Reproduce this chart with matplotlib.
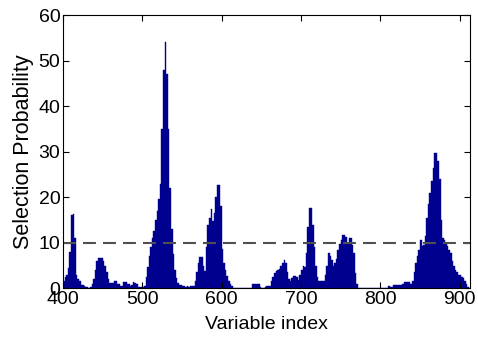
import numpy as np
import matplotlib
matplotlib.use("Agg")
import matplotlib.pyplot as plt

# selection probability, one value per pair of variables
var_index = np.arange(401, 913, 2)
sel_prob = [
    1.5, 2.5, 3, 4.5, 8, 16, 16.3, 11, 3, 2,            # 401-419
    1.5, 0.8, 0.8, 0.6, 0.3, 0.3, 0.1, 0.3, 1, 2,       # 421-439
    4, 6, 6.6, 6.6, 6.6, 6, 5, 3.5, 2, 1.2,             # 441-459
    1.2, 1.2, 1.5, 1.5, 1, 1, 0.5, 0.5, 1.3, 1.3,       # 461-479
    1, 1, 0.5, 0.8, 1.3, 1.2, 1, 0.3, 0.3, 0.3,         # 481-499
    0.3, 0.5, 2.5, 4.7, 7, 9, 11, 12.5, 15, 17,         # 501-519
    19.5, 23, 35, 48, 54, 47, 35, 22, 13, 7.5,          # 521-539
    4, 2.2, 1.2, 0.7, 0.7, 0.4, 0.4, 0.3, 0.4, 0.3,     # 541-559
    0.4, 0.4, 0.5, 1.5, 3.5, 5.5, 6.8, 6.8, 5, 3.8,     # 561-579
    9, 14, 15.5, 17.4, 14.7, 16.5, 20, 22.6, 22.6, 18,  # 581-599
    8.6, 5.5, 4, 2.6, 1.5, 1, 0.5, 0, 0, 0,             # 601-619
    0, 0, 0, 0, 0, 0, 0, 0, 0, 0.9,                     # 621-639
    0.9, 0.9, 0.9, 0.9, 0.3, 0, 0, 0.3, 0.5, 0.5,       # 641-659
    0.5, 1.5, 2.5, 3.3, 3.8, 4, 4.3, 5, 5.5, 6.2,       # 661-679
    5.5, 3.5, 2, 1.5, 2.2, 2.7, 2.7, 2.5, 1.8, 3,       # 681-699
    4, 5, 4.7, 7.7, 13.5, 17.6, 17.6, 14, 9, 4.8,       # 701-719
    2.5, 1.5, 1.5, 1.5, 1.5, 3, 4.8, 7.7, 7, 6.2,       # 721-739
    5, 5.5, 6.5, 8.5, 9.8, 10.6, 11.7, 11.7, 11.2, 10,  # 741-759
    11, 11, 9.5, 7.7, 3.3, 1, 0, 0, 0, 0,               # 761-779
    0, 0, 0, 0, 0, 0, 0, 0, 0, 0,                       # 781-799
    0, 0, 0, 0, 0, 0.5, 0.3, 0.3, 0.7, 0.7,             # 801-819
    0.7, 0.7, 0.7, 0.7, 1, 1.3, 1.3, 1.3, 1.3, 1,       # 821-839
    1.5, 3.5, 5.5, 7, 8.5, 10.6, 9.2, 9.5, 11.5, 15.5,  # 841-859
    18.5, 21, 23.5, 26.4, 29.7, 29.7, 28, 24, 15, 11,   # 861-879
    10.6, 10, 9.2, 8.5, 7.7, 6, 4.8, 4, 3.5, 3,         # 881-899
    2.9, 2.5, 2.2, 1.5, 1, 0.3,                         # 901-911
]
threshold = 10
x_ticks = [400, 500, 600, 700, 800, 900]
y_ticks = [0, 10, 20, 30, 40, 50, 60]

plt.rcParams['font.family'] = ['Liberation Sans', 'DejaVu Sans']

fig = plt.figure(figsize=(4.78, 3.42), dpi=100)
ax = fig.add_axes([0.132, 0.157, 0.851, 0.799])

ax.bar(var_index, sel_prob, width=2, color='#00008f', edgecolor='#00008f', linewidth=0.3)
ax.axhline(threshold, color='#505050', linestyle=(0, (6.2, 3.4)), linewidth=1.5)

ax.set_xlim(400, 913)
ax.set_ylim(0, 60)
ax.set_xticks(x_ticks)
ax.set_yticks(y_ticks)
ax.tick_params(direction='in', top=True, right=True, length=4, width=0.8, labelsize=14, pad=2)
for s in ax.spines.values():
    s.set_linewidth(0.8)

ax.set_xlabel('Variable index', fontsize=14, labelpad=6)
ax.set_ylabel('Selection Probability', fontsize=15.5, labelpad=3)

fig.savefig('out.png', dpi=100)
